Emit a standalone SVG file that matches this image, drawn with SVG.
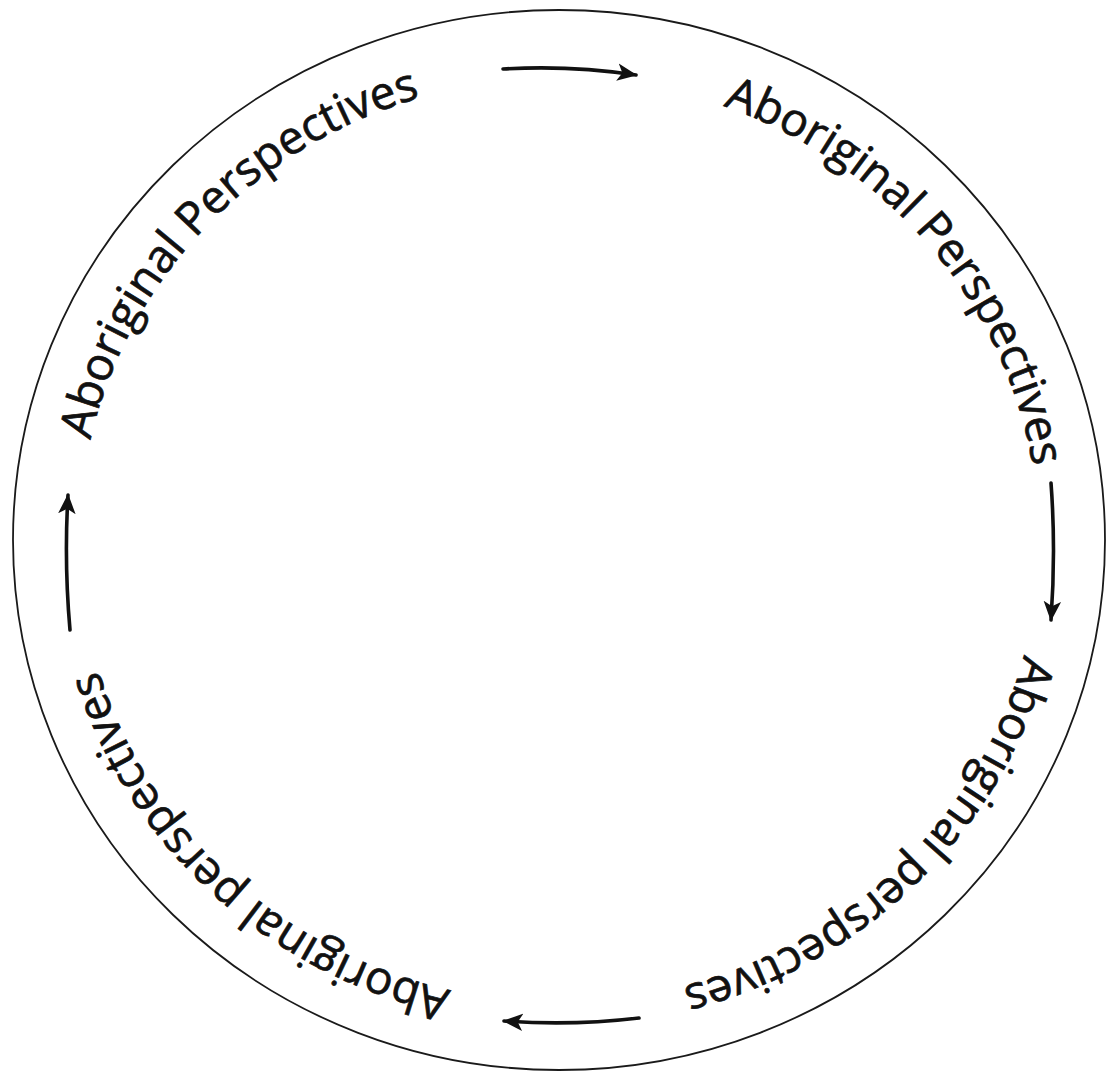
<svg xmlns="http://www.w3.org/2000/svg" width="1106" height="1074" viewBox="0 0 1106 1074">
<style>
.ring{fill:none;stroke:#1a1a1a;stroke-width:1.8}
.lbl{font-family:"Open Sans","Noto Sans","Liberation Sans",sans-serif;font-size:46px;fill:#111;stroke:#111;stroke-width:0.7}
.arr{fill:none;stroke:#111;stroke-width:3.6;stroke-linecap:round}
</style>
<defs>
<marker id="ah" markerUnits="userSpaceOnUse" markerWidth="20" markerHeight="20" refX="15" refY="8" orient="auto" viewBox="0 0 16 16">
<path d="M0,1 L16,8 L0,15 L4,8 z" fill="#111"/>
</marker>
<path id="pTL" d="M 90.4 440 A 480 462 0 0 1 579.9 78.4"/>
<path id="pTR" d="M 723.2 105.9 A 480 462 0 0 1 1031.7 620.2"/>
<path id="pBR" d="M 1023.9 654.9 A 480 462 0 0 1 522.2 1000.7"/>
<path id="pBL" d="M 451 990.2 A 480 462 0 0 1 79.7 515.8"/>
</defs>
<rect width="1106" height="1074" fill="#fff"/>
<g id="ring"><ellipse class="ring" cx="559" cy="540" rx="546" ry="530"/></g>
<g id="label-top-left"><text class="lbl"><textPath href="#pTL">Aboriginal Perspectives</textPath></text></g>
<g id="label-top-right"><text class="lbl"><textPath href="#pTR">Aboriginal Perspectives</textPath></text></g>
<g id="label-bottom-right"><text class="lbl"><textPath href="#pBR">Aboriginal perspectives</textPath></text></g>
<g id="label-bottom-left"><text class="lbl"><textPath href="#pBL">Aboriginal perspectives</textPath></text></g>
<g id="connectors">
<path class="arr" d="M 503 69 Q 570 65 636 75" marker-end="url(#ah)"/>
<path class="arr" d="M 1051 483 Q 1056 550 1051 620" marker-end="url(#ah)"/>
<path class="arr" d="M 639 1018 Q 572 1026 504 1021" marker-end="url(#ah)"/>
<path class="arr" d="M 70 630 Q 64 562 68 495" marker-end="url(#ah)"/>
</g>
</svg>
